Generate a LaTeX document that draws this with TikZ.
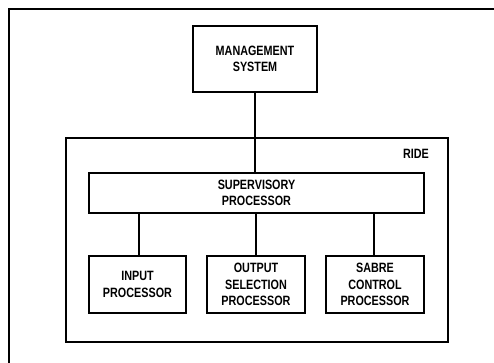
\documentclass[tikz,border=0pt]{standalone}
\usepackage{fontspec}
\setmainfont{Liberation Sans}[FakeStretch=0.8]
\begin{document}
\begin{tikzpicture}[x=1pt,y=-1pt,
  box/.style={draw,line width=1.1pt,inner sep=0pt},
  lbl/.style={font=\bfseries\fontsize{13.5}{16.5}\selectfont,align=center},
  link/.style={line width=1.1pt}]
\useasboundingbox (0,0) rectangle (494,363);
% outer frame, running past the page edges
\draw[line width=1.1pt] (9,370) -- (9,9) -- (500,9);
% RIDE enclosure
\node[box,minimum width=382pt,minimum height=204pt] (ride) at (257,240) {};
\node[lbl,anchor=center] (ridelbl) at (416,154) {RIDE};
% boxes
\node[box,minimum width=124pt,minimum height=66pt,lbl] (mgmt) at (255,59) {MANAGEMENT\\SYSTEM};
\node[box,minimum width=335pt,minimum height=40pt,lbl] (sup) at (256.5,193) {SUPERVISORY\\PROCESSOR};
\node[box,minimum width=97pt,minimum height=57pt,lbl] (inp) at (137.5,284.5) {INPUT\\PROCESSOR};
\node[box,minimum width=98pt,minimum height=57pt,lbl] (outp) at (256,284.5) {OUTPUT\\SELECTION\\PROCESSOR};
\node[box,minimum width=98pt,minimum height=57pt,lbl] (sabre) at (375,284.5) {SABRE\\CONTROL\\PROCESSOR};
% connections
\draw[link] (mgmt.south) -- (sup.north -| mgmt.south);
\draw[link] (sup.south -| 139,0) -- (inp.north -| 139,0);
\draw[link] (sup.south -| outp.north) -- (outp.north);
\draw[link] (sup.south -| 374,0) -- (sabre.north -| 374,0);
\end{tikzpicture}
\end{document}
